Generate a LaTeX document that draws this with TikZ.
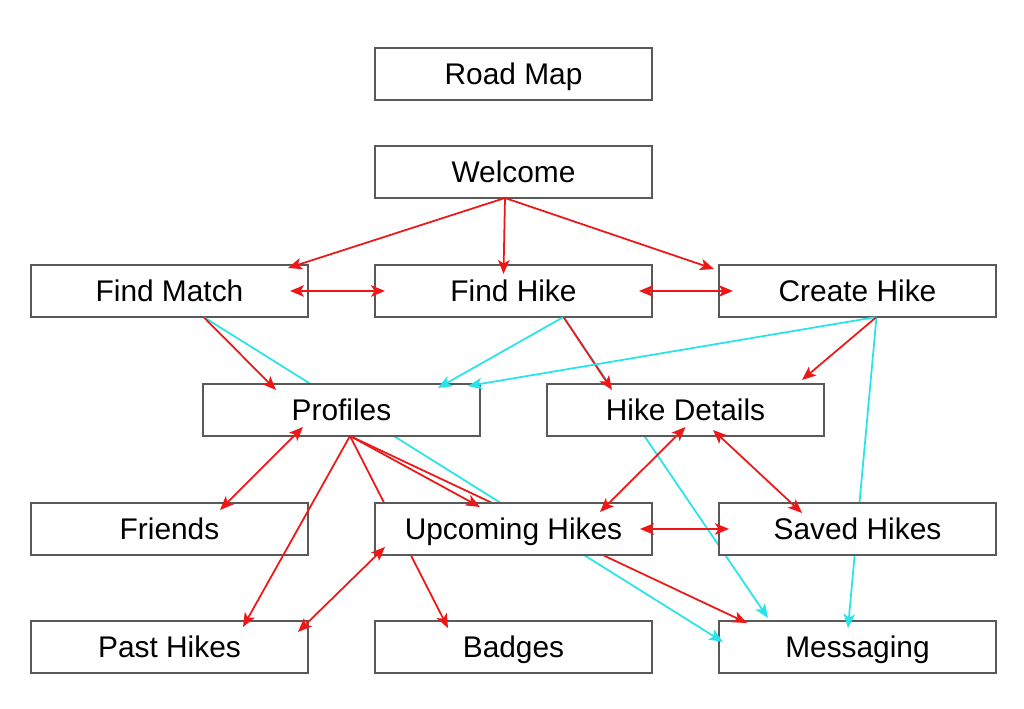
\documentclass[tikz,border=0pt]{standalone}
\usepackage{fontspec}
\setmainfont{Liberation Sans}
\usetikzlibrary{arrows.meta, positioning}
\pgfdeclarelayer{thru}
\pgfdeclarelayer{cover}
\pgfdeclarelayer{front}
\pgfsetlayers{main,thru,cover,front}
\definecolor{linkred}{RGB}{238,22,22}
\definecolor{linkcyan}{RGB}{40,228,232}

\begin{document}
\begin{tikzpicture}[
    >={Stealth[length=2.8mm, width=2.3mm, inset=0.7mm]},
    node distance=1.34cm,
    page/.style={draw=black!65, line width=0.8pt, fill=white,
                 minimum width=5.54cm, minimum height=1.04cm, outer sep=0pt,
                 inner sep=0pt, text height=16pt, text depth=3.8pt,
                 font=\fontsize{17}{20}\selectfont},
    nav/.style ={->, line width=1pt, linkred},
    both/.style={<->, line width=1pt, linkred},
    msg/.style ={->, line width=1pt, linkcyan},
]
\useasboundingbox (0,0) rectangle (20.48,14.18);
\node[page] (roadmap) at (10.27,12.70) {Road Map};
\node[page, below=0.92cm of roadmap] (welcome) {Welcome};
\node[page, below=of welcome] (findhike) {Find Hike};
\node[page, left=of findhike] (findmatch) {Find Match};
\node[page, right=of findhike] (createhike) {Create Hike};
% these boxes hide the long links that run behind them
\begin{pgfonlayer}{cover}
\node[page, below=of findhike, xshift=-3.44cm] (profiles) {Profiles};
\node[page, below=of findhike, xshift=3.44cm] (hikedetails) {Hike Details};
\node[page, below=of profiles, xshift=3.44cm] (upcoming) {Upcoming Hikes};
\node[page, right=of upcoming] (saved) {Saved Hikes};
\end{pgfonlayer}
\node[page, left=of upcoming] (friends) {Friends};
\node[page, below=1.32cm of upcoming] (badges) {Badges};
\node[page, left=of badges] (pasthikes) {Past Hikes};
\node[page, right=of badges] (messaging) {Messaging};

\begin{pgfonlayer}{thru}
\draw[msg] ([xshift=6.8mm]findmatch.south) -- ([shift={(0.8mm,1mm)}]messaging.west);
\draw[msg] ([xshift=10mm]findhike.south) -- ([shift={(9.8mm,0.6mm)}]messaging.north west);
\draw[msg] ([xshift=3.8mm]createhike.south) -- ([shift={(-1.9mm,-1.4mm)}]messaging.north);
\draw[nav] ([xshift=1.7mm]profiles.south) -- ([shift={(-13.1mm,-1.4mm)}]badges.north);
\draw[nav] ([xshift=1.7mm]profiles.south) -- ([shift={(5.6mm,-0.4mm)}]messaging.north west);
\end{pgfonlayer}

\begin{pgfonlayer}{front}
\draw[nav] ([xshift=-1.7mm]welcome.south) -- ([shift={(-4mm,-0.6mm)}]findmatch.north east);
\draw[nav] ([xshift=-1.7mm]welcome.south) -- ([shift={(-2mm,-1.8mm)}]findhike.north);
\draw[nav] ([xshift=-1.7mm]welcome.south) -- ([shift={(-1mm,-0.8mm)}]createhike.north west);
\draw[both] ([xshift=-3.6mm]findmatch.east) -- ([xshift=2mm]findhike.west);
\draw[both] ([xshift=-2.6mm]findhike.east) -- ([xshift=2.8mm]createhike.west);
\draw[nav] ([xshift=6.8mm]findmatch.south) -- ([shift={(14.6mm,-1.2mm)}]profiles.north west);
\draw[msg] ([xshift=10mm]findhike.south) -- ([shift={(-8.4mm,-0.8mm)}]profiles.north east);
\draw[nav] ([xshift=10mm]findhike.south) -- ([shift={(-14.7mm,-1.2mm)}]hikedetails.north);
\draw[msg] ([xshift=3.8mm]createhike.south) -- ([shift={(-2.4mm,-0.4mm)}]profiles.north east);
\draw[nav] ([xshift=3.8mm]createhike.south) -- ([shift={(-4.4mm,0.8mm)}]hikedetails.north east);
\draw[both] ([shift={(-7.7mm,1.8mm)}]profiles.south) -- ([shift={(-17.6mm,-1.4mm)}]friends.north east);
\draw[nav] ([xshift=1.7mm]profiles.south) -- ([shift={(14.7mm,-1.2mm)}]pasthikes.north);
\draw[nav] ([xshift=1.7mm]profiles.south) -- ([shift={(-6.7mm,-0.8mm)}]upcoming.north);
\draw[both] ([yshift=1.8mm]hikedetails.south) -- ([shift={(17.3mm,-1.8mm)}]upcoming.north);
\draw[both] ([shift={(5.5mm,1.2mm)}]hikedetails.south) -- ([shift={(-11.1mm,-2mm)}]saved.north);
\draw[both] ([xshift=-2.4mm]upcoming.east) -- ([xshift=2mm]saved.west);
\draw[both] ([shift={(2mm,1.6mm)}]upcoming.south west) -- ([shift={(-2mm,-2.2mm)}]pasthikes.north east);
\end{pgfonlayer}
\end{tikzpicture}
\end{document}
